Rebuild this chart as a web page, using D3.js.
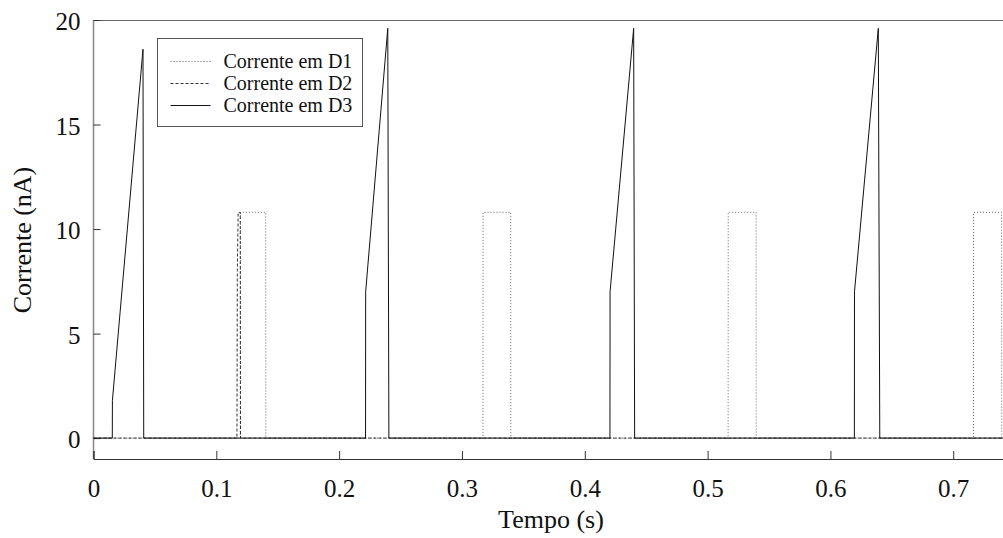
<!DOCTYPE html>
<html>
<head>
<meta charset="utf-8">
<script src="https://cdn.jsdelivr.net/npm/d3@7"></script>
<style>
  body { margin: 0; background: #fff; }
  svg text { font-family: "Liberation Serif", "Times New Roman", serif; fill: #111; }
</style>
</head>
<body>
<svg id="chart" width="1003" height="538"></svg>
<script>
// DATA (tempo em s, corrente em nA)
const xTicks = [0, 0.1, 0.2, 0.3, 0.4, 0.5, 0.6, 0.7];
const yTicks = [0, 5, 10, 15, 20];
const legendLabels = ["Corrente em D1", "Corrente em D2", "Corrente em D3"];

const correnteD1 = [
    [0, 0], [0.1195, 0], [0.1196, 10.8], [0.1402, 10.8], [0.1403, 0],
    [0.3171, 0], [0.3172, 10.8], [0.3397, 10.8], [0.3398, 0],
    [0.5167, 0], [0.5168, 10.8], [0.5395, 10.8], [0.5396, 0],
    [0.7165, 0], [0.7166, 10.8], [0.7394, 10.8], [0.7395, 0], [0.745, 0]
];
const correnteD2 = [
    [0, 0], [0.1168, 0], [0.1171, 8.0], [0.1178, 10.8], [0.1195, 10.8], [0.1197, 0], [0.745, 0]
];
const correnteD3 = [
    [0, 0], [0.0153, 0], [0.0154, 1.8], [0.0403, 18.6], [0.0409, 0],
    [0.2215, 0], [0.2216, 7.0], [0.2396, 19.6], [0.2405, 0],
    [0.4205, 0], [0.4206, 7.0], [0.4398, 19.6], [0.4406, 0],
    [0.6195, 0], [0.6196, 7.0], [0.6390, 19.6], [0.6402, 0], [0.745, 0]
];

const svg = d3.select("#chart");

// SCALES
const x = d3.scaleLinear().domain([0, 0.745]).range([93.5, 1008.5]);
const y = d3.scaleLinear().domain([-1, 20]).range([459, 20]);

// FRAME (top + left, gray like the original)
svg.append("line")
    .attr("x1", x(0)).attr("x2", x(0.745))
    .attr("y1", y(20) + 0.5).attr("y2", y(20) + 0.5)
    .attr("stroke", "#666").attr("stroke-width", 1);
svg.append("line")
    .attr("x1", x(0)).attr("x2", x(0))
    .attr("y1", y(20)).attr("y2", y(-1))
    .attr("stroke", "#888").attr("stroke-width", 1.5);

// AXES
const xAxis = svg.append("g")
    .attr("transform", `translate(0,${y(-1)})`)
    .call(d3.axisBottom(x).tickValues(xTicks).tickSize(-8).tickPadding(20)
        .tickFormat(d => d === 0 ? "0" : d3.format(".1f")(d)));
xAxis.select(".domain").attr("stroke", "#333");
xAxis.selectAll(".tick line").attr("stroke", "#333");
xAxis.selectAll("text").attr("font-size", 25).attr("fill", "#111");

const yAxis = svg.append("g")
    .attr("transform", `translate(${x(0)},0)`)
    .call(d3.axisLeft(y).tickValues(yTicks).tickSize(-7).tickPadding(13));
yAxis.select(".domain").remove();
yAxis.selectAll(".tick line").attr("stroke", "#333");
yAxis.selectAll("text").attr("font-size", 25).attr("dy", "0.38em").attr("fill", "#111");

svg.selectAll(".tick text").style("font-family", '"Liberation Serif", "Times New Roman", serif');

// AXIS TITLES
svg.append("text")
    .attr("x", 551).attr("y", 528)
    .attr("text-anchor", "middle")
    .attr("font-size", 26)
    .text("Tempo (s)");
svg.append("text")
    .attr("transform", "translate(31,240) rotate(-90)")
    .attr("text-anchor", "middle")
    .attr("font-size", 26)
    .text("Corrente (nA)");

// SERIES
const line = d3.line().x(d => x(d[0])).y(d => y(d[1]));
const styles = [
    { data: correnteD1, color: "#666", dash: "1,2" },
    { data: correnteD2, color: "#333", dash: "3,2" },
    { data: correnteD3, color: "#111", dash: null }
];
styles.forEach(s => {
    svg.append("path")
        .datum(s.data)
        .attr("d", line)
        .attr("fill", "none")
        .attr("stroke", s.color)
        .attr("stroke-width", 1)
        .attr("stroke-dasharray", s.dash);
});

// LEGEND
const legend = svg.append("g").attr("transform", "translate(157.5,38.5)");
legend.append("rect")
    .attr("width", 205).attr("height", 88)
    .attr("fill", "#fff").attr("stroke", "#555").attr("stroke-width", 1);
legendLabels.forEach((label, i) => {
    const ly = 23 + i * 22;
    legend.append("line")
        .attr("x1", 13).attr("x2", 53)
        .attr("y1", ly).attr("y2", ly)
        .attr("stroke", styles[i].color)
        .attr("stroke-width", 1)
        .attr("stroke-dasharray", styles[i].dash);
    legend.append("text")
        .attr("x", 66).attr("y", ly + 6)
        .attr("font-size", 20)
        .text(label);
});
</script>
</body>
</html>
